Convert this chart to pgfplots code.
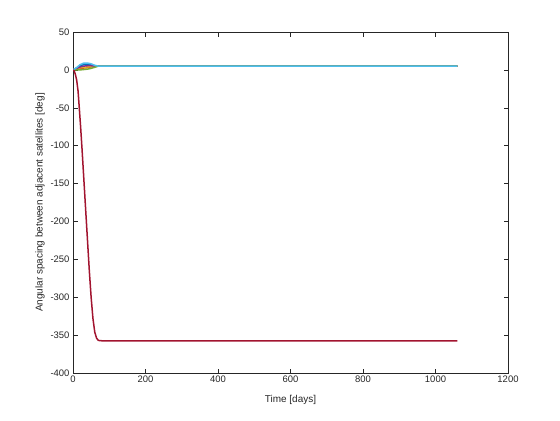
\documentclass[border=0pt]{standalone}
\usepackage{fontspec}
\setmainfont{Liberation Sans}
\usepackage{pgfplots}
\pgfplotsset{compat=1.18}
\definecolor{mgray}{rgb}{0.15,0.15,0.15}
\definecolor{c1}{rgb}{0,0.447,0.741}
\definecolor{c2}{rgb}{0.85,0.325,0.098}
\definecolor{c3}{rgb}{0.929,0.694,0.125}
\definecolor{c4}{rgb}{0.494,0.184,0.556}
\definecolor{c5}{rgb}{0.466,0.674,0.188}
\definecolor{c6}{rgb}{0.301,0.745,0.933}
\definecolor{c7}{rgb}{0.635,0.078,0.184}
\begin{document}
\begin{tikzpicture}[x=1bp,y=1bp]
\path[use as bounding box] (0,0) rectangle (560,420);
\begin{axis}[
  at={(73bp,47bp)}, anchor=south west, scale only axis,
  width=435bp, height=341bp,
  xmin=0, xmax=1200, ymin=-400, ymax=50,
  xtick={0,200,...,1200}, ytick={-400,-350,...,50},
  tick align=inside,
  axis line style={mgray, line width=0.5bp},
  tick style={mgray, line width=0.5bp},
  major tick length=4.5bp,
  ticklabel style={font=\fontsize{9.5}{11}\selectfont, text=mgray},
  /pgf/number format/assume math mode=true,
  /pgf/number format/set thousands separator={},
  xticklabel style={yshift=1bp},
  xlabel={Time [days]},
  ylabel={Angular spacing between adjacent satellites [deg]},
  label style={font=\fontsize{10}{12}\selectfont, text=mgray},
  xlabel style={at={(axis description cs:0.5,-0.079)}, anchor=center},
  ylabel style={at={(axis description cs:-0.076,0.5)}, anchor=center},
  every axis plot/.append style={line width=1.5bp, line join=round},
]
\addplot[c1] coordinates {(0,0) (10,2.5) (20,5.5) (30,7) (40,7) (50,6.5) (60,5.5) (70,5) (1060,5)};
\addplot[c2] coordinates {(0,0) (10,1) (20,2) (30,2.5) (40,3) (50,4) (60,4.5) (70,5) (1060,5)};
\addplot[c3] coordinates {(0,0) (10,1.5) (20,3) (30,3.5) (40,4) (50,4.5) (60,5) (70,5) (1060,5)};
\addplot[c4] coordinates {(0,0) (10,2) (20,4) (30,5) (40,5.5) (50,5.5) (60,5) (70,5) (1060,5)};
\addplot[c5] coordinates {(0,0) (10,0) (20,0) (30,0.5) (40,1) (50,2) (60,3.5) (70,5) (1060,5)};
\addplot[c6] coordinates {(0,0) (10,3) (20,7) (30,9) (40,9) (50,8) (60,6) (70,5) (1060,5)};
\addplot[c7] coordinates {(0,0) (3,-1) (6,-5) (10,-13) (14,-28) (17,-48) (21,-75) (25,-105) (30,-145) (35,-185) (40,-225) (45,-265) (50,-300) (55,-328) (60,-346) (65,-354) (70,-357) (80,-357.5) (1060,-357.5)};
\end{axis}
\end{tikzpicture}
\end{document}
